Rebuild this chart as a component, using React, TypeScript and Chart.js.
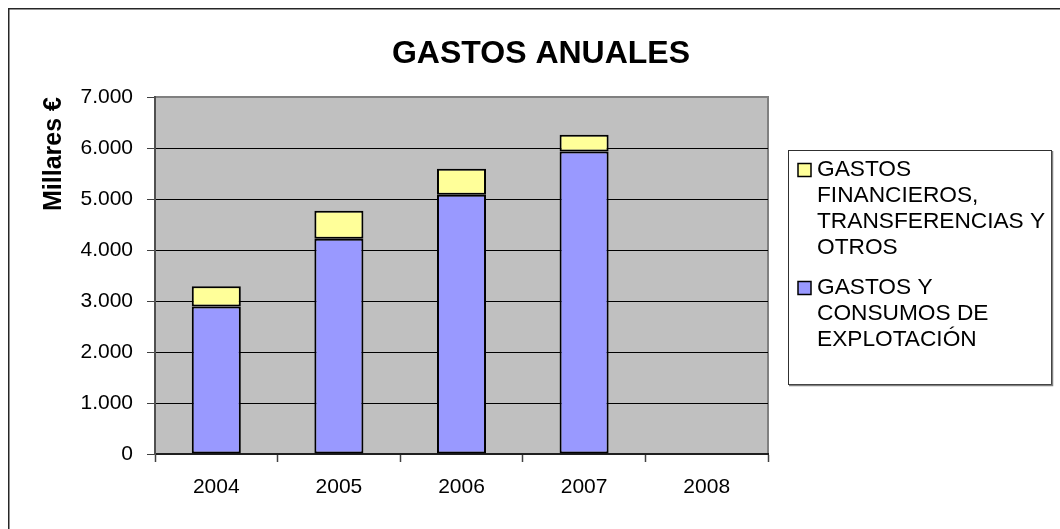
import React, { useEffect, useRef } from 'react';
import { Chart, registerables } from 'chart.js';

Chart.register(...registerables);

const categories = ['2004', '2005', '2006', '2007', '2008'];
const gastosExplotacion = [2890, 4220, 5085, 5930, null];
const gastosFinancieros = [400, 550, 510, 330, null];
const yTickLabels = ['0', '1.000', '2.000', '3.000', '4.000', '5.000', '6.000', '7.000'];
const legendExplotacion = ['GASTOS Y', 'CONSUMOS DE', 'EXPLOTACIÓN'];
const legendFinancieros = ['GASTOS', 'FINANCIEROS,', 'TRANSFERENCIAS Y', 'OTROS'];
const chartTitle = 'GASTOS ANUALES';
const yAxisTitle = 'Millares €';

const FONT = '"Liberation Sans", Arial, sans-serif';

const framePlugin = {
  id: 'frame',
  beforeDraw(chart: any) {
    const { ctx, chartArea: a } = chart;
    ctx.save();
    ctx.fillStyle = '#ffffff';
    ctx.fillRect(0, 0, chart.width, chart.height);
    ctx.fillStyle = '#C0C0C0';
    ctx.fillRect(a.left, a.top, a.right - a.left, a.bottom - a.top);
    // outer chart border (only top & left visible)
    ctx.strokeStyle = '#262626';
    ctx.lineWidth = 1.5;
    ctx.beginPath();
    ctx.moveTo(8.75, chart.height + 5);
    ctx.lineTo(8.75, 8.75);
    ctx.lineTo(chart.width + 5, 8.75);
    ctx.stroke();
    // plot area top & right border
    ctx.strokeStyle = '#808080';
    ctx.lineWidth = 2;
    ctx.beginPath();
    ctx.moveTo(a.left, a.top);
    ctx.lineTo(a.right, a.top);
    ctx.lineTo(a.right, a.bottom);
    ctx.stroke();
    ctx.restore();
  },
  afterDraw(chart: any) {
    const { ctx, chartArea: a } = chart;
    const bx = a.right + 20;
    const by = 150;
    const bw = 263;
    const bh = 234;
    ctx.save();
    ctx.fillStyle = '#ffffff';
    ctx.fillRect(bx, by, bw, bh);
    ctx.strokeStyle = '#303030';
    ctx.lineWidth = 1;
    ctx.strokeRect(bx + 0.5, by + 0.5, bw, bh);
    ctx.strokeStyle = '#808080';
    ctx.lineWidth = 1.5;
    ctx.beginPath();
    ctx.moveTo(bx + bw + 1.5, by + 1);
    ctx.lineTo(bx + bw + 1.5, by + bh + 1.5);
    ctx.lineTo(bx + 1, by + bh + 1.5);
    ctx.stroke();

    const items = [
      { lines: legendFinancieros, color: chart.data.datasets[1].backgroundColor },
      { lines: legendExplotacion, color: chart.data.datasets[0].backgroundColor },
    ];
    ctx.font = '22.7px ' + FONT;
    ctx.textBaseline = 'middle';
    ctx.textAlign = 'left';
    let y = 170;
    const lh = 26;
    items.forEach((it) => {
      ctx.fillStyle = it.color;
      ctx.fillRect(bx + 10, y - 6.5, 13, 13);
      ctx.strokeStyle = '#000';
      ctx.lineWidth = 1.5;
      ctx.strokeRect(bx + 10, y - 6.5, 13, 13);
      ctx.fillStyle = '#000';
      it.lines.forEach((ln, i) => {
        ctx.fillText(ln, bx + 29, y + i * lh);
      });
      y += it.lines.length * lh + 14;
    });
    ctx.restore();
  },
};

export default function App() {
  const ref = useRef<HTMLCanvasElement>(null);
  useEffect(() => {
    if (!ref.current) return;
    Chart.defaults.font.family = FONT;
    Chart.defaults.color = '#000';
    const chart = new Chart(ref.current, {
      type: 'bar',
      data: {
        labels: categories,
        datasets: [
          {
            label: legendExplotacion.join(' '),
            data: gastosExplotacion,
            backgroundColor: '#9999FF',
            borderColor: '#000000',
            borderWidth: 2,
            borderSkipped: false,
            barPercentage: 0.4,
            categoryPercentage: 1,
          },
          {
            label: legendFinancieros.join(' '),
            data: gastosFinancieros,
            backgroundColor: '#FFFF99',
            borderColor: '#000000',
            borderWidth: 2,
            borderSkipped: false,
            barPercentage: 0.4,
            categoryPercentage: 1,
          },
        ],
      },
      options: {
        responsive: false,
        animation: false,
        layout: { padding: { left: 22, top: 0, right: 0, bottom: 0 } },
        plugins: {
          legend: { display: false },
          tooltip: { enabled: false },
          title: {
            display: true,
            text: chartTitle,
            color: '#000',
            font: { size: 32, weight: 'bold', family: FONT },
            padding: { top: 35, bottom: 23.6 },
          },
        },
        scales: {
          x: {
            stacked: true,
            afterFit: (s: any) => {
              s.height = 75;
            },
            grid: {
              display: true,
              drawOnChartArea: false,
              drawTicks: true,
              tickLength: 8,
              offset: true,
              tickColor: '#404040',
              tickWidth: 1.5,
            },
            border: { display: true, color: '#202020', width: 2 },
            ticks: { padding: 13, color: '#000', font: { size: 21, family: FONT } },
          },
          y: {
            stacked: true,
            min: 0,
            max: 7000,
            afterFit: (s: any) => {
              s.width = 133;
            },
            ticks: {
              stepSize: 1000,
              padding: 14,
              color: '#000',
              font: { size: 21, family: FONT },
              callback: (_v: any, i: number) => yTickLabels[i],
            },
            grid: {
              color: (c: any) => (c.tick && c.tick.value === 7000 ? '#808080' : '#000000'),
              lineWidth: 1,
              tickLength: 8,
              tickColor: '#404040',
            },
            border: { display: true, color: '#505050', width: 2 },
            title: {
              display: true,
              text: yAxisTitle,
              align: 'end',
              color: '#000',
              font: { size: 25, weight: 'bold', family: FONT },
              padding: { top: 17, bottom: 0 },
            },
          },
          y2: {
            type: 'linear',
            position: 'right',
            display: true,
            afterFit: (s: any) => {
              s.width = 292;
            },
            grid: { display: false, drawTicks: false },
            border: { display: false },
            ticks: { display: false },
          },
        },
      },
      plugins: [framePlugin],
    } as any);
    return () => chart.destroy();
  }, []);
  return (
    <div style={{ position: 'fixed', left: 0, top: 0, width: 1060, height: 529 }}>
      <canvas ref={ref} width={1060} height={529} />
    </div>
  );
}
